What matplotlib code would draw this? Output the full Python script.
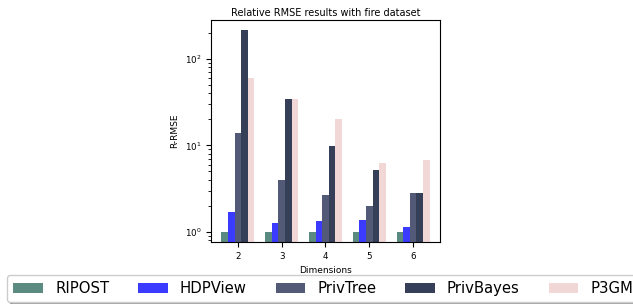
import numpy as np
import matplotlib
matplotlib.use("Agg")
import matplotlib.pyplot as plt

dims = [2, 3, 4, 5, 6]
methods = ["RIPOST", "HDPView", "PrivTree", "PrivBayes", "P3GM"]
ripost = [1.0, 1.0, 1.0, 1.0, 1.0]
hdpview = [1.7, 1.28, 1.32, 1.36, 1.15]
privtree = [14.0, 4.0, 2.7, 2.0, 2.8]
privbayes = [215.0, 34.0, 9.8, 5.2, 2.8]
p3gm = [60.0, 34.0, 20.0, 6.3, 6.8]
colors = ["#5b8a80", "#3b3bff", "#525a78", "#353f57", "#f2d7d7"]

series = [ripost, hdpview, privtree, privbayes, p3gm]

fig = plt.figure(figsize=(6.33, 3.04), dpi=100)
ax = fig.add_axes([0.3333, 0.204, 0.3618, 0.730])

x = np.array(dims, dtype=float)
w = 0.15
for i, (name, vals) in enumerate(zip(methods, series)):
    ax.bar(x + (i - 2) * w, vals, width=w, color=colors[i], label=name)

ax.set_yscale("log")
ax.set_xticks(dims)
ax.tick_params(labelsize=6.3)
ax.set_xlabel("Dimensions", fontsize=6.5)
ax.set_ylabel("R-RMSE", fontsize=6.5)
ax.set_title("Relative RMSE results with fire dataset", fontsize=7.0, pad=3)

fig.legend(loc="upper left", bbox_to_anchor=(0.0118, 0.0954), ncol=5,
           fontsize=10.7, shadow=True, fancybox=True,
           handlelength=2.0, columnspacing=1.95, borderaxespad=0)

fig.savefig("out.png", dpi=100)
